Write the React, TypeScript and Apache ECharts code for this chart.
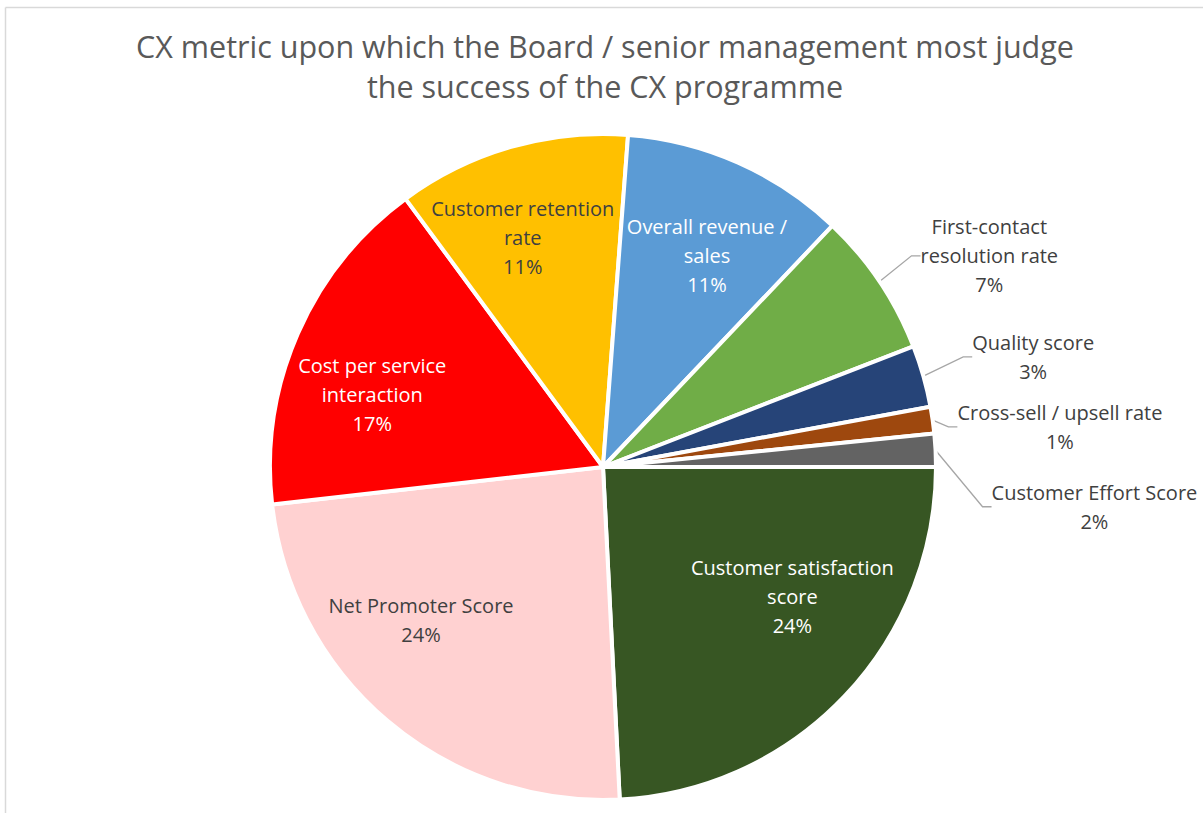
import React, { useEffect, useRef } from "react";
import * as echarts from "echarts";

const titleLines = [
  "CX metric upon which the Board / senior management most judge",
  "the success of the CX programme",
];

const categories = [
  "Customer satisfaction score",
  "Net Promoter Score",
  "Cost per service interaction",
  "Customer retention rate",
  "Overall revenue / sales",
  "First-contact resolution rate",
  "Quality score",
  "Cross-sell / upsell rate",
  "Customer Effort Score",
];

// share of respondents, %
const shares = [24.2, 24.0, 16.7, 11.3, 10.9, 7.0, 3.0, 1.3, 1.6];

const labelText = [
  "Customer satisfaction\nscore",
  "Net Promoter Score",
  "Cost per service\ninteraction",
  "Customer retention\nrate",
  "Overall revenue /\nsales",
  "First-contact\nresolution rate",
  "Quality score",
  "Cross-sell / upsell rate",
  "Customer Effort Score",
];

const sliceColors = [
  "#375623",
  "#FFD1D1",
  "#FF0000",
  "#FFC000",
  "#5B9BD5",
  "#70AD47",
  "#264478",
  "#9E480E",
  "#636363",
];

const labelColors = [
  "#FFFFFF",
  "#404040",
  "#FFFFFF",
  "#404040",
  "#FFFFFF",
  "#404040",
  "#404040",
  "#404040",
  "#404040",
];

const INSIDE_COUNT = 5;
const FONT = "'Open Sans', sans-serif";

export default function App() {
  const ref = useRef<HTMLDivElement>(null);

  useEffect(() => {
    const chart = echarts.init(ref.current as HTMLDivElement, null, { renderer: "svg" });

    const center = [603, 467];
    const R = 333;

    const insideNudge: Record<number, [number, number]> = {
      0: [18, -33],
      1: [-29, -27],
      2: [-14, 22],
      3: [-15, -2],
      4: [8, 5],
    };
    const outsideNudge: Record<number, [number, number]> = {
      5: [2, -9],
      6: [6, -11],
      7: [-19, 11],
      8: [12, 58],
    };

    const fmt = (p: any) =>
      labelText[p.dataIndex]
        .split("\n")
        .concat(Math.round(p.percent) + "%")
        .map((s: string) => `{n|${s}}`)
        .join("\n");

    const richFor = (i: number) => ({
      n: {
        fontFamily: FONT,
        fontSize: 20,
        lineHeight: 29,
        color: labelColors[i],
        align: "center",
      },
    });

    const mainData = categories.map((name, i) => ({
      name,
      value: shares[i],
      itemStyle: { color: sliceColors[i] },
      label:
        i >= INSIDE_COUNT
          ? { show: true, position: "outside", formatter: fmt, rich: richFor(i) }
          : { show: false },
      labelLine: { show: i >= INSIDE_COUNT },
    }));

    const overlayData = categories.map((name, i) => ({
      name,
      value: shares[i],
      itemStyle: { color: "rgba(0,0,0,0)", borderWidth: 0 },
      label:
        i < INSIDE_COUNT
          ? { show: true, position: "inside", formatter: fmt, rich: richFor(i) }
          : { show: false },
      labelLine: { show: false },
    }));

    chart.setOption({
      animation: false,
      backgroundColor: "#FFFFFF",
      title: {
        text: titleLines.join("\n"),
        left: 600,
        top: 21,
        textAlign: "center",
        textStyle: {
          fontFamily: FONT,
          fontSize: 30.5,
          fontWeight: "normal",
          color: "#595959",
          lineHeight: 40,
        },
      },
      graphic: [
        {
          type: "line",
          shape: { x1: 5.5, y1: 7.5, x2: 1203, y2: 7.5 },
          style: { stroke: "#D9D9D9", lineWidth: 1.5 },
          silent: true,
        },
        {
          type: "line",
          shape: { x1: 5.5, y1: 7.5, x2: 5.5, y2: 813 },
          style: { stroke: "#D9D9D9", lineWidth: 1.5 },
          silent: true,
        },
      ],
      series: [
        {
          type: "pie",
          center,
          radius: [0, R],
          startAngle: 0,
          clockwise: true,
          avoidLabelOverlap: false,
          silent: true,
          itemStyle: { borderColor: "#FFFFFF", borderWidth: 4 },
          labelLine: {
            length: 30,
            length2: 9,
            lineStyle: { color: "#A6A6A6", width: 1.3 },
          },
          labelLayout: (params: any) => {
            const n = outsideNudge[params.dataIndex];
            if (!n) return {};
            const r = params.labelRect;
            return { x: r.x + n[0], y: r.y + r.height / 2 + n[1] };
          },
          data: mainData,
        },
        {
          type: "pie",
          center,
          radius: [134, R],
          startAngle: 0,
          clockwise: true,
          silent: true,
          z: 5,
          labelLayout: (params: any) => {
            const n = insideNudge[params.dataIndex];
            return n ? { dx: n[0], dy: n[1] } : {};
          },
          data: overlayData,
        },
      ],
    });

    return () => chart.dispose();
  }, []);

  return (
    <div
      ref={ref}
      style={{ position: "fixed", left: 0, top: 0, width: 1203, height: 813 }}
    />
  );
}
